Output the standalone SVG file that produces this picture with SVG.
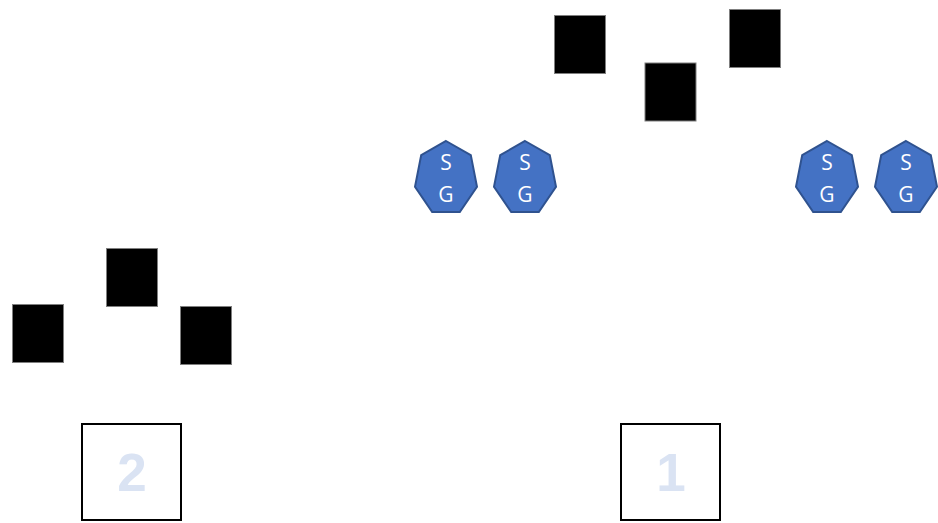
<svg xmlns="http://www.w3.org/2000/svg" width="938" height="523" viewBox="0 0 938 523">
<defs>
<style>
.blk{fill:#000;stroke:#7f7f7f;stroke-width:1}
.hep{fill:#4472C4;stroke:#2F528F;stroke-width:2}
.ht{fill:#fff;font-family:"Open Sans","Liberation Sans",sans-serif;font-size:21px;text-anchor:middle}
.box{fill:#fff;stroke:#000;stroke-width:2}
.num{fill:#DAE3F3;font-family:"Liberation Sans",sans-serif;font-weight:bold;font-size:53px;text-anchor:middle}
</style>
<polygon id="hepShape" points="31,0 55.8,14.1 62,45.7 44.8,71 17.2,71 0,45.7 6.2,14.1"/>
</defs>
<rect width="938" height="523" fill="#fff"/>
<g id="connectors"></g>
<g id="blk1"><rect class="blk" x="554.5" y="15.5" width="51" height="58"/></g>
<g id="blk2"><rect class="blk" x="645" y="63" width="51" height="58"/></g>
<g id="blk3"><rect class="blk" x="729.5" y="9.5" width="51" height="58"/></g>
<g id="blk4"><rect class="blk" x="12.5" y="304.5" width="51" height="58"/></g>
<g id="blk5"><rect class="blk" x="106.5" y="248.5" width="51" height="58"/></g>
<g id="blk6"><rect class="blk" x="180.5" y="306.5" width="51" height="58"/></g>
<g id="sg1"><use href="#hepShape" class="hep" x="415" y="141"/><text class="ht" x="446" y="170">S</text><text class="ht" x="446" y="202">G</text></g>
<g id="sg2"><use href="#hepShape" class="hep" x="494" y="141"/><text class="ht" x="525" y="170">S</text><text class="ht" x="525" y="202">G</text></g>
<g id="sg3"><use href="#hepShape" class="hep" x="796" y="141"/><text class="ht" x="827" y="170">S</text><text class="ht" x="827" y="202">G</text></g>
<g id="sg4"><use href="#hepShape" class="hep" x="875" y="141"/><text class="ht" x="906" y="170">S</text><text class="ht" x="906" y="202">G</text></g>
<g id="box2"><rect class="box" x="82" y="424" width="99" height="96"/><text class="num" x="132" y="491">2</text></g>
<g id="box1"><rect class="box" x="621" y="424" width="99" height="96"/><text class="num" x="671" y="491">1</text></g>
</svg>
